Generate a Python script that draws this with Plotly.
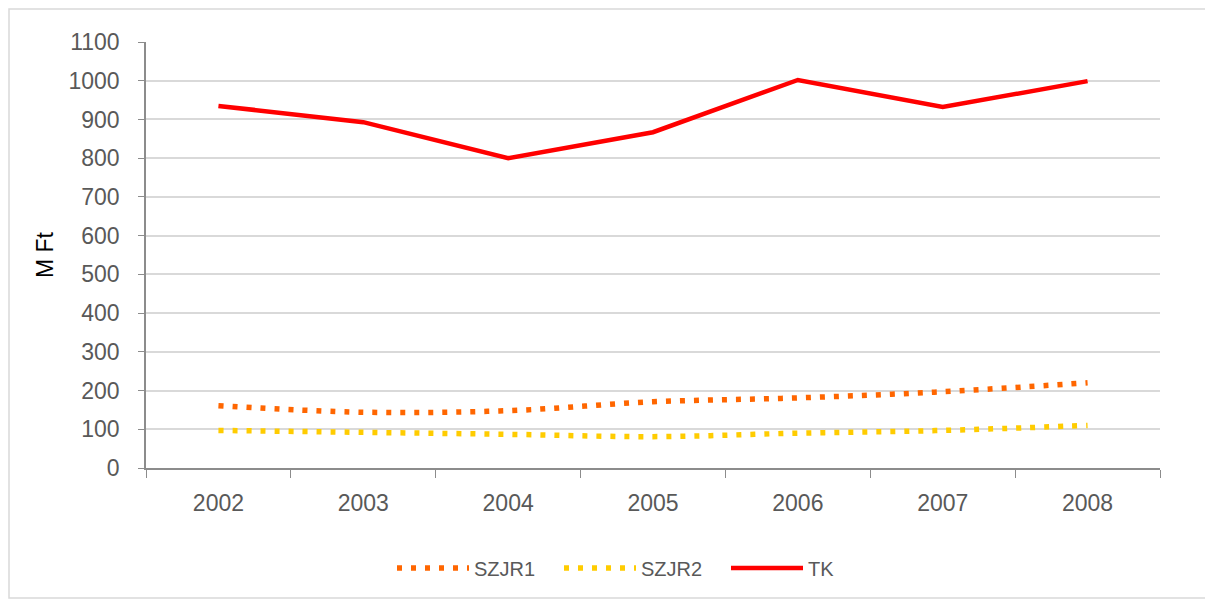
import plotly.graph_objects as go

years = ["2002", "2003", "2004", "2005", "2006", "2007", "2008"]
szjr1 = [161, 144, 148, 171, 181, 197, 220]
szjr2 = [97, 92, 87, 81, 90, 97, 110]
tk = [935, 893, 800, 867, 1002, 932, 999]
yticks = list(range(0, 1101, 100))

FONT = "Liberation Sans"
GRAY = "#595959"
AXIS = "#8c8c8c"

# page body has an 8px margin -> shift everything by -8
OFF = 8
PL, PR, PT, PB = 146, 1160, 42, 468
PW, PH = PR - PL, PB - PT

fig = go.Figure()
fig.add_trace(go.Scatter(x=years, y=szjr1, name="SZJR1", mode="lines",
                         line=dict(color="#FF6600", width=5.5, dash="5px,9px", shape="spline")))
fig.add_trace(go.Scatter(x=years, y=szjr2, name="SZJR2", mode="lines",
                         line=dict(color="#FFCC00", width=5.5, dash="5px,9px", shape="spline")))
fig.add_trace(go.Scatter(x=years, y=tk, name="TK", mode="lines",
                         line=dict(color="#FF0000", width=4.5)))

fig.update_layout(
    width=1213 - OFF, height=605 - OFF,
    margin=dict(l=PL - OFF, r=1213 - PR, t=PT - OFF, b=605 - PB, autoexpand=False),
    paper_bgcolor="white", plot_bgcolor="white",
    font=dict(family=FONT, size=20, color=GRAY),
    showlegend=True,
    legend=dict(orientation="h", x=(392 - PL) / PW, xanchor="left", y=(PB - 568) / PH, yanchor="middle",
                font=dict(size=20, color=GRAY), itemwidth=72, entrywidth=80,
                entrywidthmode="pixels", traceorder="normal"),
    xaxis=dict(type="category", range=[-0.5, 6.5], tickson="boundaries", ticks="outside", ticklen=8,
               tickcolor=AXIS, showline=True, linecolor=AXIS, linewidth=1.5,
               showgrid=False, tickfont=dict(size=23, color=GRAY), ticklabelstandoff=14),
    yaxis=dict(range=[0, 1100], tickvals=yticks, ticks="outside", ticklen=6,
               tickcolor=AXIS, showline=True, linecolor=AXIS, linewidth=1.5,
               showgrid=True, gridcolor="#d9d9d9", gridwidth=1.5, zeroline=False,
               tickfont=dict(size=23, color=GRAY), ticklabelstandoff=14),
    annotations=[dict(text="M Ft", x=(45 - PL) / PW, y=0.5, xref="paper", yref="paper",
                      textangle=-90, showarrow=False, font=dict(size=23, color="#000000"),
                      xanchor="center", yanchor="middle")],
    shapes=[dict(type="rect", xref="paper", yref="paper",
                 x0=(9 - PL) / PW, x1=(1206 - PL) / PW,
                 y0=(PB - 598) / PH, y1=(PB - 9) / PH,
                 line=dict(color="#d9d9d9", width=1.5), layer="below")],
)

fig.write_html("out.html")
